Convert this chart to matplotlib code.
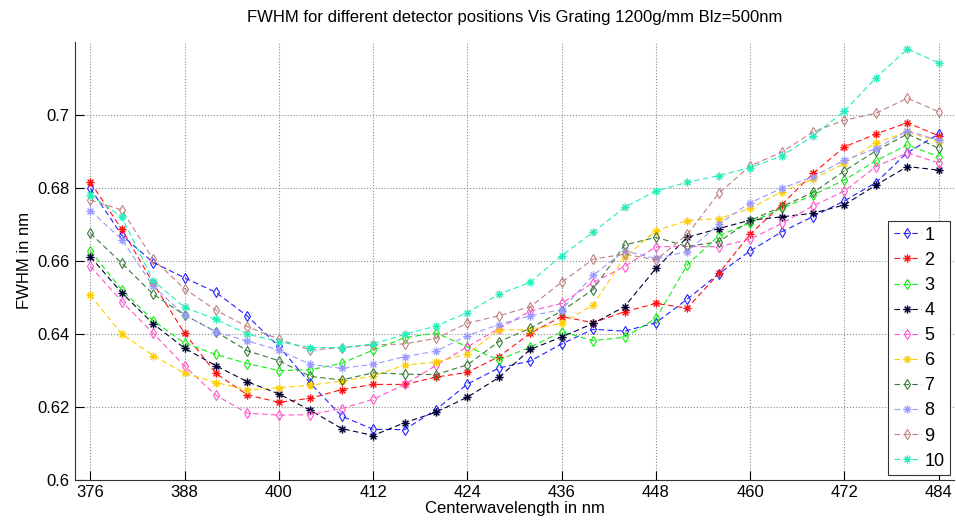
import matplotlib
matplotlib.use("Agg")
import matplotlib.pyplot as plt
from matplotlib.path import Path

plt.rcParams['font.family'] = ['Liberation Sans', 'DejaVu Sans']

# center wavelengths (nm)
wavelength = list(range(376, 485, 4))

# FWHM per detector position
fwhm_1 = [0.6798, 0.6670, 0.6595, 0.6553, 0.6513, 0.6448, 0.6365, 0.6264, 0.6174, 0.6138,
          0.6137, 0.6192, 0.6262, 0.6306, 0.6325, 0.6372, 0.6412, 0.6407, 0.6430, 0.6495,
          0.6564, 0.6627, 0.6679, 0.6721, 0.6764, 0.6814, 0.6896, 0.6947]
fwhm_2 = [0.6815, 0.6686, 0.6538, 0.6401, 0.6291, 0.6232, 0.6212, 0.6223, 0.6247, 0.6261,
          0.6261, 0.6281, 0.6294, 0.6337, 0.6401, 0.6447, 0.6430, 0.6460, 0.6483, 0.6470,
          0.6565, 0.6673, 0.6753, 0.6839, 0.6912, 0.6947, 0.6978, 0.6942]
fwhm_3 = [0.6627, 0.6520, 0.6436, 0.6374, 0.6343, 0.6318, 0.6299, 0.6301, 0.6319, 0.6355,
          0.6389, 0.6402, 0.6364, 0.6328, 0.6363, 0.6405, 0.6381, 0.6390, 0.6442, 0.6589,
          0.6668, 0.6704, 0.6743, 0.6780, 0.6821, 0.6874, 0.6917, 0.6885]
fwhm_4 = [0.6611, 0.6512, 0.6427, 0.6360, 0.6312, 0.6268, 0.6235, 0.6190, 0.6140, 0.6121,
          0.6156, 0.6185, 0.6226, 0.6280, 0.6357, 0.6391, 0.6428, 0.6474, 0.6579, 0.6664,
          0.6688, 0.6711, 0.6720, 0.6730, 0.6753, 0.6807, 0.6858, 0.6848]
fwhm_5 = [0.6585, 0.6488, 0.6401, 0.6311, 0.6231, 0.6182, 0.6177, 0.6178, 0.6195, 0.6220,
          0.6261, 0.6313, 0.6364, 0.6414, 0.6462, 0.6483, 0.6540, 0.6584, 0.6638, 0.6639,
          0.6638, 0.6659, 0.6702, 0.6750, 0.6791, 0.6858, 0.6895, 0.6868]
fwhm_6 = [0.6505, 0.6399, 0.6340, 0.6291, 0.6266, 0.6246, 0.6252, 0.6259, 0.6270, 0.6284,
          0.6314, 0.6322, 0.6345, 0.6410, 0.6411, 0.6428, 0.6479, 0.6609, 0.6682, 0.6710,
          0.6715, 0.6743, 0.6789, 0.6824, 0.6867, 0.6923, 0.6953, 0.6926]
fwhm_7 = [0.6675, 0.6593, 0.6508, 0.6451, 0.6405, 0.6353, 0.6326, 0.6283, 0.6273, 0.6293,
          0.6289, 0.6288, 0.6315, 0.6378, 0.6415, 0.6462, 0.6521, 0.6643, 0.6664, 0.6639,
          0.6652, 0.6710, 0.6748, 0.6787, 0.6846, 0.6901, 0.6947, 0.6908]
fwhm_8 = [0.6737, 0.6658, 0.6530, 0.6451, 0.6405, 0.6380, 0.6355, 0.6316, 0.6305, 0.6316,
          0.6337, 0.6352, 0.6395, 0.6425, 0.6449, 0.6466, 0.6560, 0.6627, 0.6606, 0.6625,
          0.6700, 0.6759, 0.6798, 0.6830, 0.6876, 0.6907, 0.6956, 0.6930]
fwhm_9 = [0.6766, 0.6739, 0.6604, 0.6523, 0.6464, 0.6419, 0.6385, 0.6355, 0.6362, 0.6369,
          0.6372, 0.6387, 0.6429, 0.6449, 0.6474, 0.6541, 0.6604, 0.6618, 0.6602, 0.6672,
          0.6785, 0.6860, 0.6897, 0.6953, 0.6985, 0.7004, 0.7045, 0.7008]
fwhm_10 = [0.6780, 0.6719, 0.6545, 0.6472, 0.6439, 0.6399, 0.6378, 0.6362, 0.6362, 0.6372,
           0.6398, 0.6421, 0.6458, 0.6508, 0.6541, 0.6614, 0.6678, 0.6746, 0.6791, 0.6815,
           0.6833, 0.6855, 0.6887, 0.6942, 0.7010, 0.7101, 0.7180, 0.7142]

series = [fwhm_1, fwhm_2, fwhm_3, fwhm_4, fwhm_5, fwhm_6, fwhm_7, fwhm_8, fwhm_9, fwhm_10]
labels = ['1', '2', '3', '4', '5', '6', '7', '8', '9', '10']
colors = ['#2222ff', '#ff1111', '#11ee11', '#000033', '#ff55cc',
          '#ffcc00', '#3a7a3a', '#9999ff', '#c08080', '#22eebb']

x_ticks = list(range(376, 485, 12))
y_ticks = [0.6, 0.62, 0.64, 0.66, 0.68, 0.7]
y_tick_labels = ['0.6', '0.62', '0.64', '0.66', '0.68', '0.7']

# matlab-like asterisk marker
s = 0.7
asterisk = Path([[-1, 0], [1, 0], [0, -1], [0, 1], [-s, -s], [s, s], [-s, s], [s, -s]],
                [Path.MOVETO, Path.LINETO] * 4)

fig = plt.figure(figsize=(9.56, 5.27), dpi=100)
ax = fig.add_axes([0.0781, 0.0898, 0.9203, 0.8311])

for i, (vals, lab, col) in enumerate(zip(series, labels, colors)):
    if i % 2 == 0:
        ax.plot(wavelength, vals, linestyle=(0, (5, 3)), lw=0.8, color=col,
                marker='d', markersize=5, markerfacecolor='none', markeredgewidth=0.8, label=lab)
    else:
        ax.plot(wavelength, vals, linestyle=(0, (5, 3)), lw=0.8, color=col,
                marker=asterisk, markersize=6, markeredgewidth=1.0, label=lab)

ax.set_xlim(374, 486)
ax.set_ylim(0.6, 0.72)
ax.set_xticks(x_ticks)
ax.set_yticks(y_ticks)
ax.set_yticklabels(y_tick_labels)
ax.tick_params(direction='in', length=6.5, width=0.8, labelsize=12, colors='black')
ax.grid(True, linestyle=':', color='#8a8a8a', linewidth=0.8)
ax.spines['top'].set_visible(False)
ax.spines['right'].set_visible(False)
for sp in ('left', 'bottom'):
    ax.spines[sp].set_color('#333333')

ax.set_title('FWHM for different detector positions Vis Grating 1200g/mm Blz=500nm',
             fontsize=12, pad=14)
ax.set_xlabel('Centerwavelength in nm', fontsize=12, labelpad=1)
ax.set_ylabel('FWHM in nm', fontsize=12, labelpad=4)

leg = ax.legend(loc='lower right', fontsize=13, handlelength=1.5, handletextpad=0.2,
                labelspacing=0.45, borderpad=0.3, borderaxespad=0.25, fancybox=False,
                framealpha=1)
leg.get_frame().set_edgecolor('#333333')
leg.get_frame().set_linewidth(0.8)

fig.savefig('out.png', dpi=100)
